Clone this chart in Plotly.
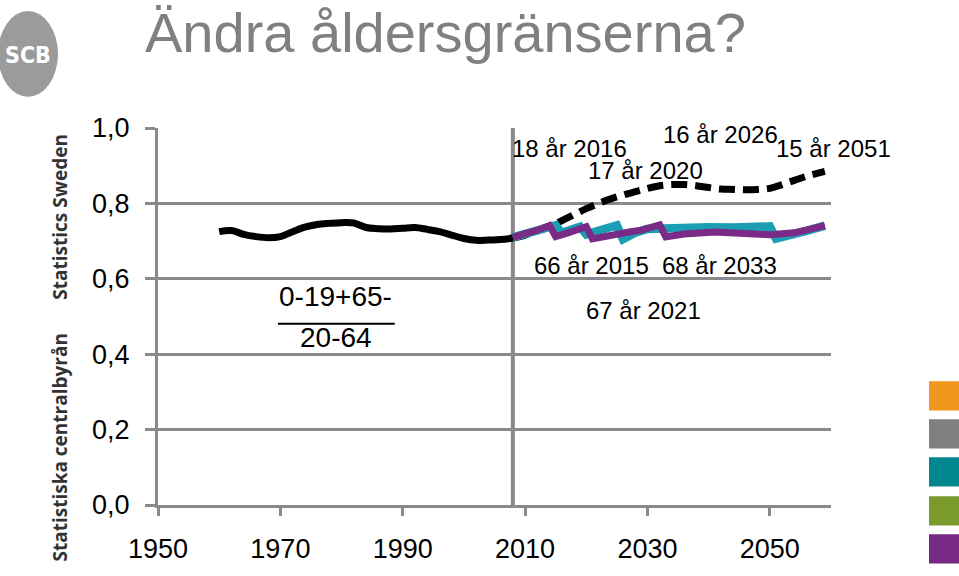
import plotly.graph_objects as go

# ---------------- data ----------------
hist_years = [1960, 1962, 1964, 1966, 1968, 1970, 1972, 1974, 1976, 1978, 1980, 1982,
              1984, 1986, 1988, 1990, 1992, 1994, 1996, 1998, 2000, 2002, 2004, 2006, 2008]
hist_vals = [0.725, 0.728, 0.718, 0.712, 0.709, 0.712, 0.725, 0.737, 0.744, 0.747, 0.749, 0.748,
             0.736, 0.733, 0.732, 0.734, 0.736, 0.731, 0.725, 0.716, 0.707, 0.702, 0.703, 0.704, 0.708]

base_years = [2008, 2010, 2012, 2014, 2016, 2018, 2020, 2022, 2024, 2026, 2028, 2030, 2032,
              2034, 2036, 2038, 2040, 2042, 2044, 2046, 2048, 2050, 2052, 2054, 2056, 2059]
base_vals = [0.708, 0.716, 0.728, 0.740, 0.754, 0.770, 0.786, 0.800, 0.812, 0.822, 0.831, 0.840, 0.847,
             0.850, 0.850, 0.847, 0.842, 0.838, 0.837, 0.836, 0.837, 0.840, 0.850, 0.861, 0.872, 0.885]

young_years = [2008, 2010, 2012, 2014, 2015, 2016, 2017, 2019, 2020, 2022, 2024, 2025, 2026, 2028,
               2030, 2033, 2036, 2040, 2044, 2048, 2050, 2051, 2053, 2056, 2059]
young_vals = [0.710, 0.718, 0.728, 0.738, 0.742, 0.722, 0.728, 0.738, 0.718, 0.728, 0.738, 0.742, 0.705, 0.722,
              0.732, 0.735, 0.737, 0.737, 0.736, 0.736, 0.739, 0.707, 0.714, 0.727, 0.741]

pension_years = [2008, 2010, 2012, 2014, 2015, 2017, 2020, 2021, 2023, 2025, 2027, 2029, 2032, 2033,
                 2036, 2041, 2046, 2050, 2054, 2059]
pension_vals = [0.710, 0.718, 0.729, 0.741, 0.712, 0.722, 0.738, 0.706, 0.713, 0.719, 0.724, 0.729, 0.743, 0.711,
                0.719, 0.724, 0.722, 0.717, 0.722, 0.741]

x_ticks = [1950, 1970, 1990, 2010, 2030, 2050]
x_ticktext = ["1950", "1970", "1990", "2010", "2030", "2050"]
y_ticks = [0.0, 0.2, 0.4, 0.6, 0.8, 1.0]
y_ticktext = ["0,0", "0,2", "0,4", "0,6", "0,8", "1,0"]

label_texts = ["18 år 2016", "16 år 2026", "15 år 2051", "17 år 2020",
               "66 år 2015", "68 år 2033", "67 år 2021"]
label_x = [2017.2, 2041.9, 2060.4, 2029.6, 2020.8, 2041.7, 2029.3]
label_y = [0.945, 0.984, 0.945, 0.888, 0.635, 0.635, 0.516]

title_text = "Ändra åldersgränserna?"
ratio_num = "0-19+65-"
ratio_den = "20-64"
split_year = 2008

swatch_colors = ["#F0961C", "#808080", "#00868F", "#7B9A2C", "#762A83"]

# ---------------- layout helpers ----------------
W, H = 959, 576
L, R, T, B = 158, 831, 128, 515
X0, X1 = 1950, 2060


def px2x(px):
    return (px - L) / (R - L)


def py2y(py):
    return (B - py) / (B - T)


def yr2x(yr):
    return (yr - X0) / (X1 - X0)


FONT = "Liberation Sans, Arial, Helvetica, sans-serif"
GRID = "#8a8a8a"

fig = go.Figure()

fig.add_trace(go.Scatter(x=base_years, y=base_vals, mode="lines",
                         line=dict(color="black", width=7, dash="16px,8px", shape="spline"),
                         hoverinfo="skip"))
fig.add_trace(go.Scatter(x=hist_years, y=hist_vals, mode="lines",
                         line=dict(color="black", width=7, shape="spline"), hoverinfo="skip"))
fig.add_trace(go.Scatter(x=young_years, y=young_vals, mode="lines",
                         line=dict(color="#1b9db3", width=8.5), hoverinfo="skip"))
fig.add_trace(go.Scatter(x=pension_years, y=pension_vals, mode="lines",
                         line=dict(color="#7a2b86", width=7), hoverinfo="skip"))

shapes = []
shapes.append(dict(type="line", xref="x", yref="y", x0=split_year, x1=split_year,
                   y0=-0.013, y1=1.016, line=dict(color="#888888", width=4), layer="below"))
shapes.append(dict(type="line", xref="x", yref="y", x0=1969.6, x1=1988.7, y0=0.481, y1=0.481,
                   line=dict(color="black", width=2)))
shapes.append(dict(type="circle", xref="paper", yref="paper",
                   x0=px2x(-2), x1=px2x(58), y0=py2y(96), y1=py2y(8),
                   fillcolor="#9b9b9b", line=dict(width=0)))
sw_top = [388, 427, 466, 506, 545]
for c, t in zip(swatch_colors, sw_top):
    shapes.append(dict(type="rect", xref="paper", yref="paper",
                       x0=px2x(929), x1=px2x(962), y0=py2y(t + 30), y1=py2y(t),
                       fillcolor=c, line=dict(width=0)))

annotations = []
for t, x, y in zip(label_texts, label_x, label_y):
    annotations.append(dict(text=t, x=yr2x(x), y=y, xref="paper", yref="paper", showarrow=False,
                            xanchor="center", yanchor="middle",
                            font=dict(family=FONT, size=24, color="black")))
annotations.append(dict(text=ratio_num, x=1979.0, y=0.552, xref="x", yref="y", showarrow=False,
                        xanchor="center", yanchor="middle",
                        font=dict(family=FONT, size=28, color="black")))
annotations.append(dict(text=ratio_den, x=1979.1, y=0.443, xref="x", yref="y", showarrow=False,
                        xanchor="center", yanchor="middle",
                        font=dict(family=FONT, size=28, color="black")))
annotations.append(dict(text=title_text, x=px2x(143), y=py2y(30), xref="paper", yref="paper",
                        xanchor="left", yanchor="middle", showarrow=False,
                        font=dict(family=FONT, size=56, color="#808080")))
annotations.append(dict(text="<b>Statistics Sweden</b>", x=px2x(60), y=py2y(219), xref="paper",
                        yref="paper", textangle=-90, showarrow=False,
                        xanchor="center", yanchor="middle",
                        font=dict(family="Open Sans, sans-serif", size=19, color="#333333")))
annotations.append(dict(text="<b>Statistiska centralbyrån</b>", x=px2x(60), y=py2y(456),
                        xref="paper", yref="paper", textangle=-90, showarrow=False,
                        xanchor="center", yanchor="middle",
                        font=dict(family="Open Sans, sans-serif", size=19, color="#333333")))
annotations.append(dict(text="<b>SCB</b>", x=px2x(28), y=py2y(53), xref="paper", yref="paper",
                        showarrow=False, xanchor="center", yanchor="middle",
                        font=dict(family="DejaVu Sans Condensed, Liberation Sans Narrow, sans-serif",
                                  size=23, color="white")))

fig.update_layout(
    width=W, height=H,
    margin=dict(l=L, r=W - R, t=T, b=H - B, pad=0),
    paper_bgcolor="white", plot_bgcolor="white",
    showlegend=False,
    shapes=shapes, annotations=annotations,
    xaxis=dict(range=[X0, X1], tickvals=x_ticks, ticktext=x_ticktext,
               showgrid=False, zeroline=False, showline=True, linecolor=GRID, linewidth=3,
               ticks="outside", ticklen=8, tickwidth=3, tickcolor=GRID,
               tickfont=dict(family=FONT, size=27, color="black"), ticklabelstandoff=10),
    yaxis=dict(range=[0, 1.0], tickvals=y_ticks, ticktext=y_ticktext,
               showgrid=True, gridcolor=GRID, gridwidth=3, zeroline=False,
               showline=True, linecolor=GRID, linewidth=3,
               ticks="outside", ticklen=10, tickwidth=3, tickcolor=GRID,
               tickfont=dict(family=FONT, size=27, color="black"), ticklabelstandoff=10),
)

css_fix = (
    "var s=document.createElement('style');"
    "s.textContent='html,body{margin:0;padding:0;overflow:hidden;width:959px;height:576px;}"
    "body>div{height:576px;overflow:hidden;}';"
    "document.head.appendChild(s);"
)
fig.write_html("out.html", config={"displayModeBar": False}, post_script=css_fix)
